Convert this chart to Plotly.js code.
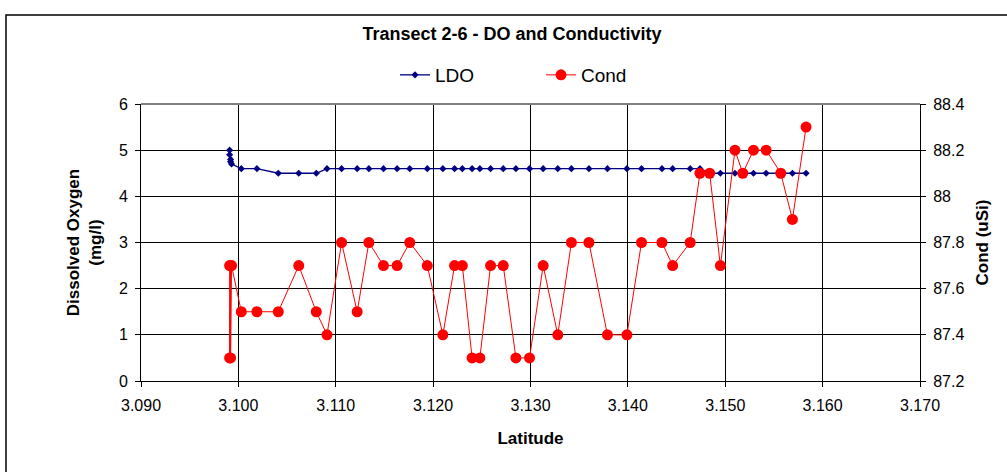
<!DOCTYPE html>
<html>
<head>
<meta charset="utf-8">
<script src="https://cdn.plot.ly/plotly-3.0.1.min.js"></script>
<style>
  html, body { margin: 0; padding: 0; background: #fff; }
  #chart { width: 1007px; height: 472px; }
</style>
</head>
<body>
<div id="chart"></div>
<script>
// Latitude of each sample
const latitude = [3.0991, 3.0991, 3.0992, 3.0992, 3.0993, 3.1003, 3.1019, 3.1041, 3.1062, 3.1080,
  3.1091, 3.1106, 3.1122, 3.1134, 3.1149, 3.1163, 3.1176, 3.1194, 3.1210, 3.1222,
  3.1230, 3.1240, 3.1248, 3.1259, 3.1272, 3.1285, 3.1299, 3.1313, 3.1328, 3.1342,
  3.1360, 3.1379, 3.1399, 3.1414, 3.1435, 3.1446, 3.1464, 3.1474, 3.1484, 3.1495,
  3.1510, 3.1518, 3.1529, 3.1542, 3.1557, 3.1569, 3.1583];

// Dissolved oxygen (mg/l)
const ldo = [5.0, 4.9, 4.8, 4.75, 4.7, 4.6, 4.6, 4.5, 4.5, 4.5,
  4.6, 4.6, 4.6, 4.6, 4.6, 4.6, 4.6, 4.6, 4.6, 4.6,
  4.6, 4.6, 4.6, 4.6, 4.6, 4.6, 4.6, 4.6, 4.6, 4.6,
  4.6, 4.6, 4.6, 4.6, 4.6, 4.6, 4.6, 4.6, 4.5, 4.5,
  4.5, 4.5, 4.5, 4.5, 4.5, 4.5, 4.5];

// Conductivity (uSi)
const cond = [87.7, 87.3, 87.7, 87.3, 87.7, 87.5, 87.5, 87.5, 87.7, 87.5,
  87.4, 87.8, 87.5, 87.8, 87.7, 87.7, 87.8, 87.7, 87.4, 87.7,
  87.7, 87.3, 87.3, 87.7, 87.7, 87.3, 87.3, 87.7, 87.4, 87.8,
  87.8, 87.4, 87.4, 87.8, 87.8, 87.7, 87.8, 88.1, 88.1, 87.7,
  88.2, 88.1, 88.2, 88.2, 88.1, 87.9, 88.3];

const xTicks = [3.090, 3.100, 3.110, 3.120, 3.130, 3.140, 3.150, 3.160, 3.170];
const leftTicks = [0, 1, 2, 3, 4, 5, 6];
const rightTicks = [87.2, 87.4, 87.6, 87.8, 88.0, 88.2, 88.4];

const FONT = 'Liberation Sans, Arial, sans-serif';

const traces = [
  {
    name: 'LDO', x: latitude, y: ldo, type: 'scatter', mode: 'lines+markers',
    line: { color: '#000080', width: 1.3 },
    marker: { symbol: 'diamond', size: 5.5, color: '#000080' },
    yaxis: 'y'
  },
  {
    name: 'Cond', x: latitude, y: cond, type: 'scatter', mode: 'lines+markers',
    line: { color: '#FF0000', width: 1 },
    marker: { symbol: 'circle', size: 11, color: '#FF0000' },
    yaxis: 'y2'
  }
];

const L = 141, R = 920, T = 104, B = 381;
const pw = R - L, ph = B - T;
const px2x = p => (p - L) / pw;
const px2y = p => (B - p) / ph;

const layout = {
  width: 1007, height: 472,
  margin: { l: L, r: 1007 - R, t: T, b: 472 - B, pad: 0 },
  paper_bgcolor: '#ffffff', plot_bgcolor: '#ffffff',
  font: { family: FONT, color: '#000000', size: 16 },
  title: {
    text: '<b>Transect 2-6 - DO and Conductivity</b>',
    font: { family: FONT, size: 18, color: '#000' },
    xref: 'container', x: 512 / 1007, xanchor: 'center',
    yref: 'container', y: 1 - 34 / 472, yanchor: 'middle'
  },
  showlegend: true,
  legend: {
    orientation: 'h', x: px2x(395), xanchor: 'left', y: px2y(75), yanchor: 'middle',
    font: { family: FONT, size: 19, color: '#000' },
    entrywidth: 101, entrywidthmode: 'pixels',
    bgcolor: 'rgba(0,0,0,0)', borderwidth: 0
  },
  xaxis: {
    range: [3.09, 3.17], tickvals: xTicks, tickformat: '.3f',
    showgrid: true, gridcolor: '#000000', gridwidth: 1,
    showline: true, linecolor: '#000000', linewidth: 1,
    ticks: 'outside', ticklen: 5, tickcolor: '#000', tickwidth: 1,
    ticklabelstandoff: 5,
    tickfont: { family: FONT, size: 16, color: '#000' },
    zeroline: false,
    title: { text: '<b>Latitude</b>', font: { family: FONT, size: 17, color: '#000' }, standoff: 18 }
  },
  yaxis: {
    range: [0, 6], tickvals: leftTicks,
    showgrid: true, gridcolor: '#000000', gridwidth: 1,
    showline: true, linecolor: '#000000', linewidth: 1,
    ticks: 'outside', ticklen: 5, tickcolor: '#000', tickwidth: 1,
    ticklabelstandoff: 4,
    tickfont: { family: FONT, size: 16, color: '#000' },
    zeroline: false,
    title: { text: '<b>Dissolved Oxygen<br>(mg/l)</b>', font: { family: FONT, size: 17, color: '#000' }, standoff: 12 }
  },
  yaxis2: {
    overlaying: 'y', side: 'right', range: [87.2, 88.4], tickvals: rightTicks,
    showgrid: false,
    showline: true, linecolor: '#000000', linewidth: 1,
    ticks: 'outside', ticklen: 5, tickcolor: '#000', tickwidth: 1,
    ticklabelstandoff: 4,
    tickfont: { family: FONT, size: 16, color: '#000' },
    zeroline: false,
    title: { text: '<b>Cond (uSi)</b>', font: { family: FONT, size: 17, color: '#000' }, standoff: 12 }
  },
  shapes: [
    {
      type: 'line', xref: 'paper', yref: 'paper', x0: 0, x1: 1, y0: 1, y1: 1,
      line: { color: '#808080', width: 2 }, layer: 'above'
    },
    {
      type: 'rect', xref: 'paper', yref: 'paper',
      x0: px2x(6), x1: px2x(1015), y0: px2y(480), y1: px2y(15),
      line: { color: '#000000', width: 1.5 }, fillcolor: 'rgba(0,0,0,0)'
    }
  ]
};

Plotly.newPlot('chart', traces, layout, { displayModeBar: false, responsive: false });
</script>
</body>
</html>
